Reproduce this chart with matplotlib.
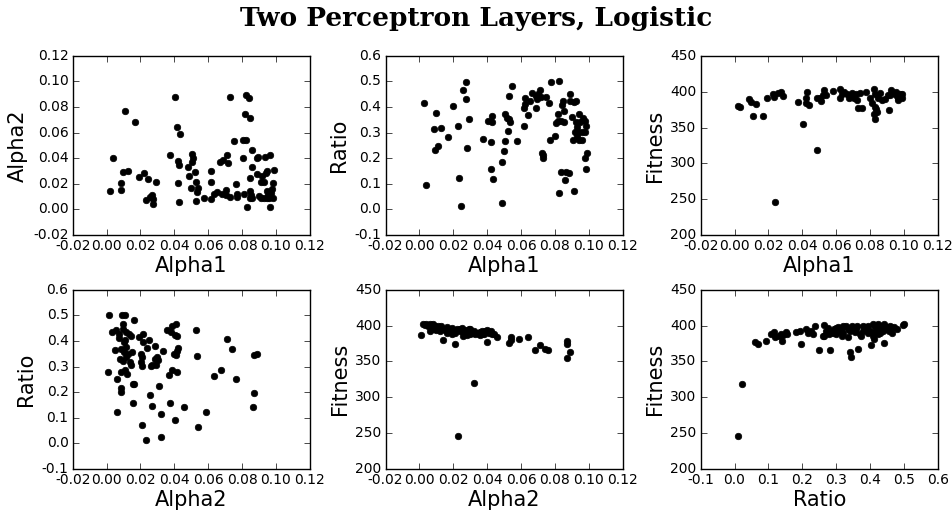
import matplotlib
matplotlib.use("Agg")
import matplotlib.pyplot as plt
import matplotlib.ticker as mticker

# ---- Panel 1: Alpha1 vs Alpha2
p1_alpha1 = [0.002, 0.0035, 0.0084, 0.0088, 0.0094, 0.0124, 0.0108, 0.0165, 0.0194, 0.0222,
             0.0242, 0.029, 0.0232, 0.0258, 0.027, 0.0273, 0.0275, 0.0402, 0.0413, 0.0433,
             0.0374, 0.042, 0.0425, 0.0423, 0.0425, 0.0482, 0.0486, 0.0506, 0.0512, 0.0506,
             0.052, 0.0528, 0.0498, 0.054, 0.0536, 0.053, 0.0573, 0.0614, 0.0614, 0.0616,
             0.0632, 0.0652, 0.0668, 0.0686, 0.0709, 0.0717, 0.0682, 0.0706, 0.0706, 0.073,
             0.073, 0.075, 0.0763, 0.0773, 0.0771, 0.0804, 0.0822, 0.0804, 0.0824, 0.0839,
             0.082, 0.0844, 0.0857, 0.0857, 0.0844, 0.0814, 0.083, 0.0847, 0.0853, 0.0845,
             0.0859, 0.0887, 0.0889, 0.0897, 0.0903, 0.091, 0.0928, 0.0912, 0.0918, 0.0933,
             0.0932, 0.094, 0.095, 0.0967, 0.095, 0.0956, 0.0958, 0.0966, 0.0974, 0.0983,
             0.0991, 0.0982, 0.0948, 0.0972]
p1_alpha2 = [0.0141, 0.0404, 0.021, 0.0154, 0.029, 0.0297, 0.077, 0.068, 0.0253, 0.0287,
             0.0235, 0.0216, 0.007, 0.0099, 0.0112, 0.008, 0.0039, 0.0876, 0.0644, 0.0592,
             0.0425, 0.038, 0.0347, 0.0203, 0.006, 0.0331, 0.0258, 0.0433, 0.0402, 0.0373,
             0.0295, 0.0216, 0.0164, 0.017, 0.0138, 0.0065, 0.0091, 0.0297, 0.0216, 0.0078,
             0.012, 0.0133, 0.0373, 0.039, 0.0428, 0.036, 0.0117, 0.0154, 0.0112, 0.0094,
             0.0876, 0.0535, 0.0198, 0.0117, 0.0096, 0.0542, 0.0542, 0.0399, 0.0894, 0.0868,
             0.0743, 0.0712, 0.0467, 0.0329, 0.0243, 0.012, 0.0021, 0.0146, 0.0112, 0.0086,
             0.0091, 0.0274, 0.0404, 0.0412, 0.0107, 0.0091, 0.0091, 0.0216, 0.0261, 0.041,
             0.0216, 0.0282, 0.0302, 0.0422, 0.0143, 0.0112, 0.0089, 0.0016, 0.0156, 0.0209,
             0.0308, 0.0086, 0.0086, 0.0125]

# ---- Panel 2: Alpha1 vs Ratio
p2_alpha1 = [0.0027, 0.0041, 0.0098, 0.0088, 0.0092, 0.0112, 0.0125, 0.0169, 0.0196, 0.0225,
             0.0235, 0.0245, 0.0259, 0.0276, 0.0276, 0.028, 0.029, 0.0376, 0.0404, 0.042,
             0.0427, 0.0427, 0.0424, 0.0437, 0.0486, 0.049, 0.0498, 0.0508, 0.0506, 0.0516,
             0.0522, 0.0529, 0.0537, 0.0531, 0.0547, 0.0575, 0.0616, 0.062, 0.0625, 0.0624,
             0.0639, 0.0653, 0.0667, 0.0686, 0.0688, 0.0694, 0.0702, 0.071, 0.0718, 0.0725,
             0.073, 0.0727, 0.0747, 0.0763, 0.0773, 0.0776, 0.0802, 0.0804, 0.0818, 0.082,
             0.0827, 0.0825, 0.0835, 0.0837, 0.0843, 0.0847, 0.0851, 0.0853, 0.0859, 0.0863,
             0.0884, 0.0888, 0.089, 0.0902, 0.0906, 0.091, 0.0912, 0.0925, 0.0916, 0.0927,
             0.0929, 0.0933, 0.0937, 0.0945, 0.0945, 0.0951, 0.0959, 0.0961, 0.0969, 0.0975,
             0.098, 0.0978, 0.099, 0.0982, 0.0986]
p2_ratio = [0.416, 0.095, 0.378, 0.316, 0.231, 0.249, 0.318, 0.283, 0.403, 0.325,
            0.124, 0.013, 0.467, 0.497, 0.432, 0.240, 0.353, 0.274, 0.346, 0.262,
            0.365, 0.342, 0.159, 0.120, 0.023, 0.186, 0.229, 0.267, 0.372, 0.357,
            0.308, 0.353, 0.343, 0.443, 0.481, 0.269, 0.327, 0.398, 0.437, 0.412,
            0.369, 0.425, 0.455, 0.398, 0.443, 0.432, 0.451, 0.465, 0.439, 0.222,
            0.213, 0.199, 0.441, 0.416, 0.272, 0.498, 0.288, 0.338, 0.372, 0.346,
            0.501, 0.064, 0.347, 0.145, 0.408, 0.424, 0.340, 0.383, 0.113, 0.145,
            0.143, 0.450, 0.424, 0.361, 0.271, 0.072, 0.421, 0.425, 0.301, 0.340,
            0.286, 0.321, 0.301, 0.372, 0.272, 0.340, 0.272, 0.301, 0.359, 0.347,
            0.301, 0.199, 0.222, 0.158, 0.327]

# ---- Panel 3: Alpha1 vs Fitness
p3_alpha1 = [0.002, 0.0034, 0.0085, 0.0097, 0.0109, 0.0126, 0.0166, 0.0191, 0.0233, 0.0227,
             0.0258, 0.0272, 0.0285, 0.024, 0.0376, 0.0406, 0.0429, 0.0425, 0.0425, 0.0441,
             0.0486, 0.0488, 0.0504, 0.051, 0.052, 0.0531, 0.0543, 0.0579, 0.0622, 0.062,
             0.0634, 0.0649, 0.0665, 0.0675, 0.0685, 0.0693, 0.0705, 0.0716, 0.0724, 0.073,
             0.074, 0.0753, 0.0777, 0.0802, 0.0812, 0.0826, 0.0832, 0.0822, 0.083, 0.0828,
             0.0836, 0.0842, 0.0848, 0.0858, 0.087, 0.0889, 0.0913, 0.0909, 0.0925, 0.0921,
             0.0941, 0.0952, 0.0956, 0.0964, 0.098, 0.0988, 0.099, 0.0964]
p3_fitness = [380.2, 378.8, 389.5, 385.8, 366.2, 383.4, 366.2, 391.3, 392.3, 396.5,
              398.3, 400.2, 394.1, 246.2, 386.2, 355.0, 399.7, 390.9, 383.9, 381.6,
              319.2, 391.8, 390.9, 387.2, 395.5, 402.5, 395.5, 401.6, 403.4, 390.9,
              397.4, 400.2, 396.5, 390.9, 395.5, 398.8, 390.9, 397.4, 389.0, 376.9,
              398.8, 376.9, 399.7, 390.9, 383.9, 403.4, 396.5, 368.4, 361.9, 379.2,
              375.9, 372.3, 390.9, 398.8, 389.0, 390.0, 374.1, 395.5, 402.0, 395.5,
              397.8, 395.5, 400.2, 391.8, 396.5, 397.4, 390.9, 388.2]

# ---- Panel 4: Alpha2 vs Ratio
p4_alpha2 = [0.0017, 0.0033, 0.0011, 0.0054, 0.005, 0.0064, 0.0064, 0.0074, 0.0076, 0.008,
             0.0086, 0.0088, 0.0084, 0.0092, 0.0096, 0.0096, 0.01, 0.01, 0.0096, 0.0088,
             0.011, 0.0112, 0.0108, 0.0116, 0.0116, 0.011, 0.012, 0.0128, 0.0134, 0.014,
             0.0144, 0.0144, 0.0148, 0.016, 0.0156, 0.0164, 0.0156, 0.0194, 0.0214, 0.0214,
             0.0204, 0.021, 0.0206, 0.0208, 0.021, 0.0233, 0.0236, 0.0251, 0.0255, 0.026,
             0.0267, 0.027, 0.0286, 0.0284, 0.0291, 0.0303, 0.0297, 0.0307, 0.0322, 0.0322,
             0.0336, 0.0356, 0.0368, 0.0374, 0.0384, 0.0382, 0.0388, 0.0396, 0.0402, 0.0404,
             0.041, 0.0414, 0.0408, 0.0414, 0.0424, 0.0418, 0.0459, 0.053, 0.0534, 0.054,
             0.0587, 0.0636, 0.0677, 0.0711, 0.0739, 0.0763, 0.0867, 0.0869, 0.0871, 0.0887]
p4_ratio = [0.501, 0.435, 0.277, 0.442, 0.366, 0.252, 0.122, 0.429, 0.412, 0.331,
            0.370, 0.216, 0.199, 0.501, 0.468, 0.446, 0.396, 0.357, 0.320, 0.278,
            0.501, 0.435, 0.403, 0.376, 0.337, 0.285, 0.272, 0.350, 0.429, 0.318,
            0.307, 0.420, 0.357, 0.481, 0.233, 0.233, 0.157, 0.416, 0.429, 0.396,
            0.350, 0.337, 0.318, 0.302, 0.072, 0.012, 0.373, 0.405, 0.187, 0.302,
            0.144, 0.308, 0.379, 0.331, 0.305, 0.324, 0.337, 0.224, 0.115, 0.026,
            0.359, 0.444, 0.268, 0.157, 0.457, 0.435, 0.288, 0.350, 0.093, 0.425,
            0.468, 0.418, 0.344, 0.278, 0.373, 0.359, 0.141, 0.444, 0.340, 0.065,
            0.122, 0.264, 0.285, 0.409, 0.367, 0.251, 0.141, 0.197, 0.346, 0.349]

# ---- Panel 5: Alpha2 vs Fitness
p5_alpha2 = [0.001, 0.002, 0.003, 0.004, 0.005, 0.006, 0.007, 0.008, 0.009, 0.010,
             0.011, 0.012, 0.013, 0.014, 0.006, 0.008, 0.010, 0.012, 0.009, 0.015,
             0.016, 0.016, 0.017, 0.014, 0.018, 0.019, 0.019, 0.020, 0.021, 0.021,
             0.022, 0.023, 0.024, 0.024, 0.025, 0.026, 0.026, 0.027, 0.028, 0.028,
             0.029, 0.029, 0.030, 0.030, 0.031, 0.032, 0.033, 0.034, 0.035, 0.036,
             0.036, 0.037, 0.037, 0.038, 0.039, 0.040, 0.040, 0.041, 0.042, 0.043,
             0.044, 0.046, 0.053, 0.054, 0.054, 0.059, 0.064, 0.068, 0.071, 0.074,
             0.076, 0.087, 0.087, 0.087, 0.089, 0.023, 0.032]
p5_fitness = [387, 402, 401, 402, 400, 402, 401, 402, 400, 398,
              400, 397, 399, 396, 392, 395, 394, 393, 397, 394,
              390, 398, 396, 380, 392, 397, 388, 393, 390, 374,
              396, 394, 392, 396, 397, 391, 386, 394, 387, 392,
              392, 396, 389, 395, 390, 393, 388, 390, 389, 391,
              387, 393, 389, 389, 392, 394, 377, 390, 392, 388,
              389, 384, 376, 384, 380, 382, 384, 366, 373, 368,
              366, 378, 375, 355, 363, 246, 320]

# ---- Panel 6: Ratio vs Fitness
p6_ratio = [0.011, 0.021, 0.061, 0.068, 0.092, 0.109, 0.116, 0.119, 0.130, 0.138,
            0.140, 0.142, 0.153, 0.155, 0.182, 0.194, 0.197, 0.212, 0.218, 0.225,
            0.231, 0.239, 0.248, 0.262, 0.264, 0.264, 0.270, 0.275, 0.278, 0.281,
            0.285, 0.290, 0.295, 0.300, 0.300, 0.305, 0.310, 0.315, 0.318, 0.320,
            0.320, 0.330, 0.335, 0.336, 0.340, 0.342, 0.344, 0.345, 0.348, 0.350,
            0.355, 0.360, 0.362, 0.364, 0.370, 0.374, 0.380, 0.380, 0.385, 0.390,
            0.395, 0.395, 0.400, 0.403, 0.408, 0.410, 0.410, 0.413, 0.415, 0.420,
            0.425, 0.425, 0.428, 0.430, 0.435, 0.438, 0.440, 0.440, 0.445, 0.450,
            0.455, 0.460, 0.465, 0.470, 0.480, 0.497, 0.500]
p6_fitness = [246, 319, 377, 374, 378, 388, 391, 384, 385, 389,
              378, 387, 391, 389, 391, 393, 375, 396, 390, 392,
              389, 400, 366, 385, 401, 386, 393, 397, 388, 366,
              392, 390, 395, 389, 397, 398, 392, 395, 385, 390,
              399, 400, 396, 384, 392, 363, 356, 397, 400, 397,
              391, 395, 400, 368, 388, 385, 393, 400, 398, 395,
              399, 390, 393, 373, 390, 402, 386, 381, 398, 393,
              402, 388, 396, 390, 400, 393, 402, 376, 395, 398,
              392, 399, 390, 398, 395, 401, 403]

panels = [
    (p1_alpha1, p1_alpha2, "Alpha1", "Alpha2", (-0.02, 0.12), (-0.02, 0.12)),
    (p2_alpha1, p2_ratio, "Alpha1", "Ratio", (-0.02, 0.12), (-0.1, 0.6)),
    (p3_alpha1, p3_fitness, "Alpha1", "Fitness", (-0.02, 0.12), (200, 450)),
    (p4_alpha2, p4_ratio, "Alpha2", "Ratio", (-0.02, 0.12), (-0.1, 0.6)),
    (p5_alpha2, p5_fitness, "Alpha2", "Fitness", (-0.02, 0.12), (200, 450)),
    (p6_ratio, p6_fitness, "Ratio", "Fitness", (-0.1, 0.6), (200, 450)),
]

plt.style.use("classic")
plt.rcParams["axes.formatter.useoffset"] = False

fig = plt.figure(figsize=(9.52, 5.13), dpi=100, facecolor="white")

lefts = [0.0764, 0.405, 0.736]
bottoms = [0.542, 0.086]
w, h = 0.249, 0.349

for i, (x, y, xl, yl, xlim, ylim) in enumerate(panels):
    r, c = divmod(i, 3)
    ax = fig.add_axes([lefts[c], bottoms[r], w, h])
    ax.set_facecolor("white")
    ax.scatter(x, y, s=22, c="k", edgecolors="k", linewidths=0.5, zorder=3)
    ax.set_xlim(*xlim)
    ax.set_ylim(*ylim)
    ax.set_xlabel(xl, fontsize=15, labelpad=2)
    ax.set_ylabel(yl, fontsize=15, labelpad=4)
    ax.tick_params(labelsize=10, direction="in", top=True, right=True, length=4, pad=3)
    if xlim == (-0.02, 0.12):
        ax.xaxis.set_major_locator(mticker.MultipleLocator(0.02))
        ax.xaxis.set_major_formatter(mticker.FormatStrFormatter("%.2f"))
    else:
        ax.xaxis.set_major_locator(mticker.MultipleLocator(0.1))
        ax.xaxis.set_major_formatter(mticker.FormatStrFormatter("%.1f"))
    if ylim == (-0.02, 0.12):
        ax.yaxis.set_major_locator(mticker.MultipleLocator(0.02))
        ax.yaxis.set_major_formatter(mticker.FormatStrFormatter("%.2f"))
    elif ylim == (-0.1, 0.6):
        ax.yaxis.set_major_locator(mticker.MultipleLocator(0.1))
        ax.yaxis.set_major_formatter(mticker.FormatStrFormatter("%.1f"))
    else:
        ax.yaxis.set_major_locator(mticker.MultipleLocator(50))
    for sp in ax.spines.values():
        sp.set_linewidth(1.0)

fig.text(0.5, 1 - 26 / 513, "Two Perceptron Layers, Logistic", ha="center", va="baseline",
         fontsize=19, fontweight="bold", family="DejaVu Serif")

fig.savefig("out.png", dpi=100, facecolor="white")
